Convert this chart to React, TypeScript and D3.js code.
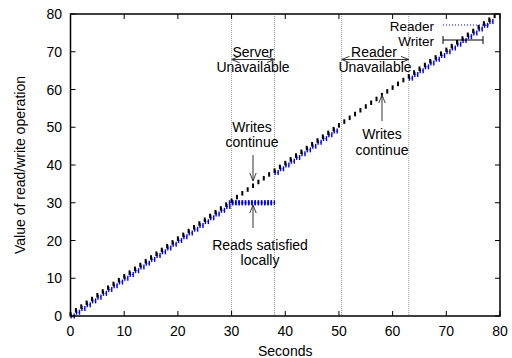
import React from "react";
import * as d3 from "d3";

// writer: one write per second, value written
const writerSeconds = [
  0, 1, 2, 3, 4, 5, 6, 7, 8, 9, 10, 11, 12, 13, 14, 15, 16, 17, 18, 19,
  20, 21, 22, 23, 24, 25, 26, 27, 28, 29, 30, 31, 32, 33, 34, 35, 36, 37, 38, 39,
  40, 41, 42, 43, 44, 45, 46, 47, 48, 49, 50, 51, 52, 53, 54, 55, 56, 57, 58, 59,
  60, 61, 62, 63, 64, 65, 66, 67, 68, 69, 70, 71, 72, 73, 74, 75, 76, 77, 78, 79,
];
const writerValues = [
  0, 1, 2, 3, 4, 5, 6, 7, 8, 9, 10, 11, 12, 13, 14, 15, 16, 17, 18, 19,
  20, 21, 22, 23, 24, 25, 26, 27, 28, 29, 30, 31, 32, 33, 34, 35, 36, 37, 38, 39,
  40, 41, 42, 43, 44, 45, 46, 47, 48, 49, 50, 51, 52, 53, 54, 55, 56, 57, 58, 59,
  60, 61, 62, 63, 64, 65, 66, 67, 68, 69, 70, 71, 72, 73, 74, 75, 76, 77, 78, 79,
];

// reader: value seen by the reader
const readerSeconds = [
  0.4, 1.4, 2.4, 3.4, 4.4, 5.4, 6.4, 7.4, 8.4, 9.4, 10.4, 11.4, 12.4, 13.4, 14.4,
  15.4, 16.4, 17.4, 18.4, 19.4, 20.4, 21.4, 22.4, 23.4, 24.4, 25.4, 26.4, 27.4, 28.4, 29.4,
  29.9, 30.5, 31.1, 31.7, 32.3, 32.9, 33.5, 34.1, 34.7, 35.3, 35.9, 36.5, 37.1, 37.7,
  38.4, 39.4, 40.4, 41.4, 42.4, 43.4, 44.4, 45.4, 46.4, 47.4, 48.4, 49.4,
  63.4, 64.4, 65.4, 66.4, 67.4, 68.4, 69.4, 70.4, 71.4, 72.4, 73.4, 74.4, 75.4, 76.4, 77.4, 78.4,
];
const readerValues = [
  0, 1, 2, 3, 4, 5, 6, 7, 8, 9, 10, 11, 12, 13, 14,
  15, 16, 17, 18, 19, 20, 21, 22, 23, 24, 25, 26, 27, 28, 29,
  30, 30, 30, 30, 30, 30, 30, 30, 30, 30, 30, 30, 30, 30,
  38, 39, 40, 41, 42, 43, 44, 45, 46, 47, 48, 49,
  63, 64, 65, 66, 67, 68, 69, 70, 71, 72, 73, 74, 75, 76, 77, 78,
];

const eventLines = [30, 38, 50.5, 63];
const xTickValues = [0, 10, 20, 30, 40, 50, 60, 70, 80];
const yTickValues = [0, 10, 20, 30, 40, 50, 60, 70, 80];

const W = 512;
const H = 358;
const left = 70.5;
const right = 500;
const top = 14;
const bottom = 316;
const fs = 14;
const font = "'Liberation Sans', Arial, Helvetica, sans-serif";

const App = () => {
  const x = d3.scaleLinear().domain([0, 80]).range([left, right]);
  const y = d3.scaleLinear().domain([0, 80]).range([bottom, top]);

  const writer = writerSeconds.map((t, i) => ({ t, v: writerValues[i] }));
  const reader = readerSeconds.map((t, i) => ({ t, v: readerValues[i] }));

  return (
    <svg
      width={W}
      height={H}
      style={{ position: "absolute", left: 0, top: 0, background: "#fff" }}
      fontFamily={font}
    >
      <defs>
        <marker id="ah" viewBox="0 0 10 10" refX="10" refY="5" markerWidth="8" markerHeight="8" orient="auto-start-reverse" markerUnits="userSpaceOnUse">
          <path d="M0,1 L10,5 L0,9" fill="none" stroke="#333" strokeWidth="1.2" />
        </marker>
      </defs>

      {/* event lines */}
      {eventLines.map((d) => (
        <line key={d} x1={x(d)} x2={x(d)} y1={top} y2={bottom} stroke="#999" strokeDasharray="1,1" />
      ))}

      {/* reader marks */}
      {reader.map((d, i) => (
        <g key={"r" + i} stroke="#0000ff">
          <line x1={x(d.t) - 1.5} x2={x(d.t) + 1.5} y1={y(d.v)} y2={y(d.v)} strokeDasharray="1,1" />
          <line x1={x(d.t) - 1.5} x2={x(d.t) - 1.5} y1={y(d.v) - 2.5} y2={y(d.v) + 2.5} strokeWidth={1.4} />
          <line x1={x(d.t) + 1.5} x2={x(d.t) + 1.5} y1={y(d.v) - 2.5} y2={y(d.v) + 2.5} strokeWidth={1.4} />
        </g>
      ))}

      {/* writer marks */}
      {writer.map((d, i) => (
        <line key={"w" + i} x1={x(d.t)} x2={x(d.t)} y1={y(d.v - 0.1)} y2={y(d.v + 1.1)} stroke="#000" strokeWidth={2} />
      ))}

      {/* frame */}
      <rect x={left} y={top} width={right - left} height={bottom - top} fill="none" stroke="#000" strokeWidth={1.5} />

      {/* x ticks */}
      {xTickValues.map((t) => (
        <g key={"x" + t}>
          <line x1={x(t)} x2={x(t)} y1={bottom} y2={bottom - 5} stroke="#000" />
          <line x1={x(t)} x2={x(t)} y1={top} y2={top + 5} stroke="#000" />
          <text x={x(t)} y={336} textAnchor="middle" fontSize={fs}>{t}</text>
        </g>
      ))}
      {/* y ticks */}
      {yTickValues.map((t) => (
        <g key={"y" + t}>
          <line x1={left} x2={left + 5} y1={y(t)} y2={y(t)} stroke="#000" />
          <line x1={right} x2={right - 5} y1={y(t)} y2={y(t)} stroke="#000" />
          <text x={62} y={y(t)} dy="0.36em" textAnchor="end" fontSize={fs}>{t}</text>
        </g>
      ))}

      <text x={(left + right) / 2} y={356} textAnchor="middle" fontSize={fs}>Seconds</text>
      <text transform={`translate(25, ${(top + bottom) / 2}) rotate(-90)`} textAnchor="middle" fontSize={fs}>
        Value of read/write operation
      </text>

      {/* outage annotations */}
      <line x1={x(30)} x2={x(38)} y1={59.5} y2={59.5} stroke="#333" markerStart="url(#ah)" markerEnd="url(#ah)" />
      <text x={x(34)} y={57} textAnchor="middle" fontSize={fs}>Server</text>
      <text x={x(34)} y={72} textAnchor="middle" fontSize={fs}>Unavailable</text>

      <line x1={x(50.5)} x2={x(63)} y1={59.5} y2={59.5} stroke="#333" markerStart="url(#ah)" markerEnd="url(#ah)" />
      <text x={374} y={57} textAnchor="middle" fontSize={fs}>Reader</text>
      <text x={375} y={72} textAnchor="middle" fontSize={fs}>Unavailable</text>

      <text x={252} y={132} textAnchor="middle" fontSize={fs}>Writes</text>
      <text x={252} y={147} textAnchor="middle" fontSize={fs}>continue</text>
      <line x1={253} x2={253} y1={155} y2={181} stroke="#333" markerEnd="url(#ah)" />

      <line x1={253} x2={253} y1={228} y2={205} stroke="#333" markerEnd="url(#ah)" />
      <text x={260} y={250} textAnchor="middle" fontSize={fs}>Reads satisfied</text>
      <text x={260} y={265} textAnchor="middle" fontSize={fs}>locally</text>

      <line x1={382} x2={382} y1={121} y2={95} stroke="#333" markerEnd="url(#ah)" />
      <text x={382} y={139} textAnchor="middle" fontSize={fs}>Writes</text>
      <text x={382} y={155} textAnchor="middle" fontSize={fs}>continue</text>

      {/* legend */}
      <text x={434} y={30.5} textAnchor="end" fontSize={13.5}>Reader</text>
      <line x1={443} x2={489} y1={25} y2={25} stroke="#0000ff" strokeDasharray="1,2" />
      <text x={434} y={45.5} textAnchor="end" fontSize={13.5}>Writer</text>
      <line x1={443} x2={483} y1={40} y2={40} stroke="#000" />
      <line x1={443} x2={443} y1={36} y2={44} stroke="#000" />
      <line x1={483} x2={483} y1={36} y2={44} stroke="#000" />
    </svg>
  );
};

export default App;
